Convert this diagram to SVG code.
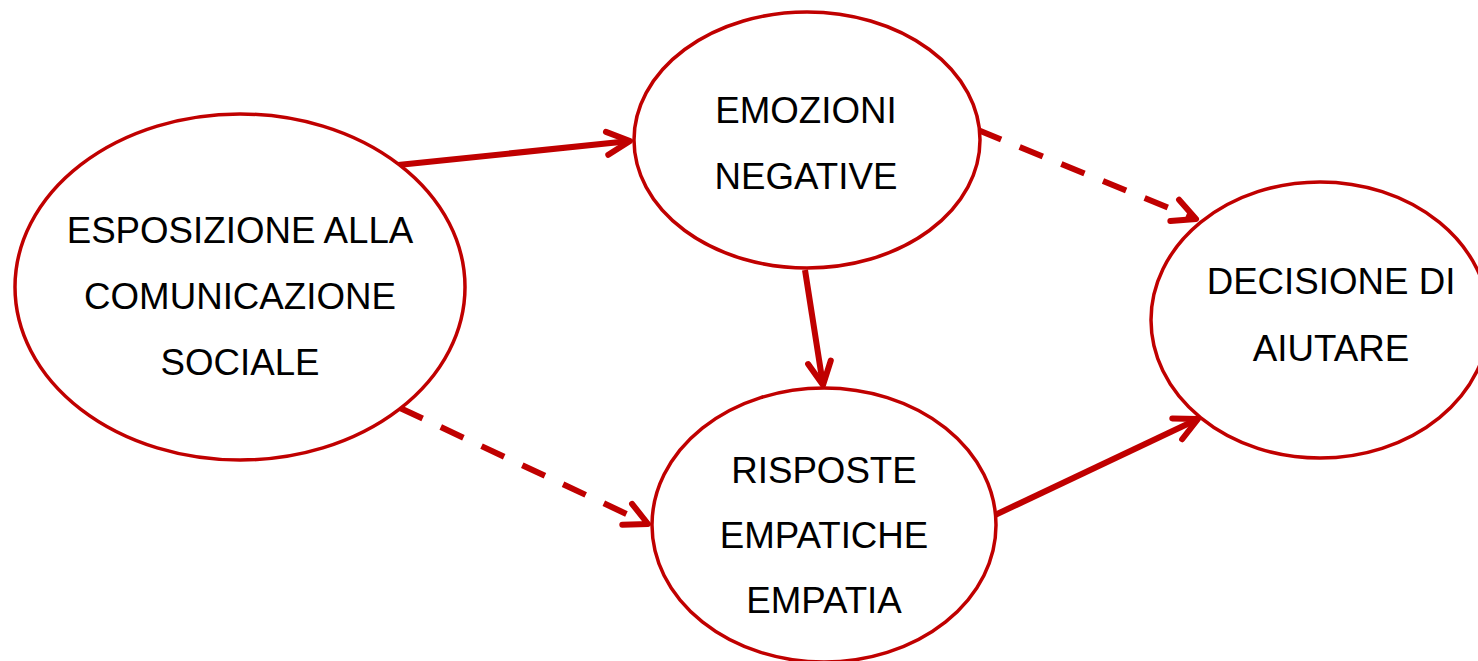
<svg xmlns="http://www.w3.org/2000/svg" width="1478" height="661" viewBox="0 0 1478 661">
<style>
.node{fill:#fff;stroke:#C00000;stroke-width:3.5}
.lbl{font-family:"Liberation Sans",Arial,sans-serif;font-size:36.7px;fill:#000;text-anchor:middle}
.edge{fill:none;stroke:#C00000;stroke-width:6;stroke-linecap:butt}
.dash{stroke-dasharray:25 20}
</style>
<defs>
<marker id="arr" markerUnits="userSpaceOnUse" markerWidth="40" markerHeight="40" refX="0" refY="0" orient="auto" overflow="visible">
<path d="M-23,-11.5 L0,0 L-23,11.5" fill="none" stroke="#C00000" stroke-width="6" stroke-linecap="round" stroke-linejoin="round"/>
</marker>
</defs>
<rect width="1478" height="661" fill="#fff"/>
<g id="connectors">
<line class="edge" x1="398" y1="165" x2="630" y2="141" marker-end="url(#arr)"/>
<line class="edge dash" x1="978" y1="130" x2="1196" y2="219" marker-end="url(#arr)"/>
<line class="edge" x1="805" y1="270" x2="823" y2="385" marker-end="url(#arr)"/>
<line class="edge dash" x1="400" y1="408" x2="648" y2="524" marker-end="url(#arr)"/>
<line class="edge" x1="995" y1="515" x2="1198" y2="419" marker-end="url(#arr)"/>
</g>
<g id="n1">
<ellipse class="node" cx="240" cy="287" rx="225" ry="173"/>
<text class="lbl" x="240" y="243">ESPOSIZIONE ALLA</text>
<text class="lbl" x="240" y="309">COMUNICAZIONE</text>
<text class="lbl" x="240" y="375">SOCIALE</text>
</g>
<g id="n2">
<ellipse class="node" cx="807" cy="140" rx="173" ry="128"/>
<text class="lbl" x="806" y="123">EMOZIONI</text>
<text class="lbl" x="806" y="189">NEGATIVE</text>
</g>
<g id="n3">
<ellipse class="node" cx="824" cy="525" rx="172" ry="137"/>
<text class="lbl" x="824" y="483">RISPOSTE</text>
<text class="lbl" x="824" y="548">EMPATICHE</text>
<text class="lbl" x="824" y="613">EMPATIA</text>
</g>
<g id="n4">
<ellipse class="node" cx="1320" cy="320" rx="169" ry="138"/>
<text class="lbl" x="1331" y="294">DECISIONE DI</text>
<text class="lbl" x="1331" y="361">AIUTARE</text>
</g>
</svg>
